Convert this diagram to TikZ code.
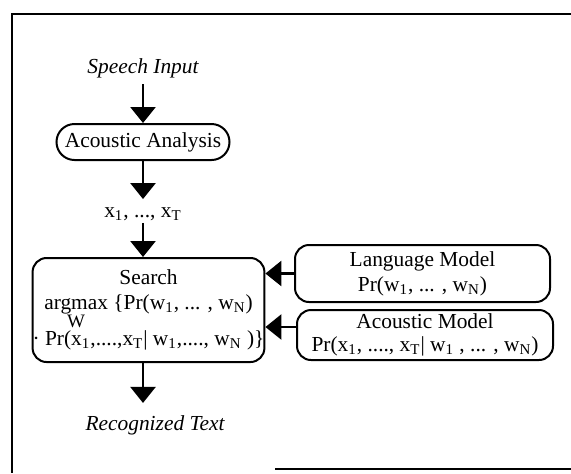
\documentclass[tikz,border=0pt]{standalone}
\usepackage{fontspec}
\setmainfont{Liberation Serif}
\usetikzlibrary{arrows.meta}
\begin{document}
\begin{tikzpicture}[
  x=0.5pt, y=-0.5pt,
  every node/.style={font=\fontsize{10.7}{12.5}\selectfont},
  box/.style={
    draw, line width=1pt, rectangle, rounded corners=7pt,
    align=center, inner sep=0pt
  },
  arr/.style={-{Triangle[width=12.5pt,length=8pt]}, line width=1.3pt},
  lbl/.style={inner sep=1pt, align=center},
]
\useasboundingbox (0,0) rectangle (571,473);
\draw[line width=1.2pt] (571,14) -- (12,14) -- (12,473);
\draw[line width=1.2pt] (275,469) -- (571,469);

\node[lbl] (speech) at (143,68) {\itshape Speech Input};
\node[box, rounded corners=9pt, minimum width=86.5pt, minimum height=18pt]
  (analysis) at (143,142) {Acoustic Analysis};
\node[lbl] (feat) at (143,214) {x\textsubscript{1}, ..., x\textsubscript{T}};
\node[box, minimum width=111.5pt, minimum height=52pt] (search) at (148.5,310)
  {Search\\[0pt]
   \smash{\begin{tabular}[t]{@{}c@{}}argmax\\[-3.5pt]\fontsize{9.5}{10}\selectfont W\end{tabular}}
   \{Pr(w\textsubscript{1}, ... , w\textsubscript{N})\\[5.5pt]
   · Pr(x\textsubscript{1},....,x\textsubscript{T}| w\textsubscript{1},...., w\textsubscript{N} )\}};
\node[lbl] (result) at (155,425) {\itshape Recognized Text};
\node[box, minimum width=127.5pt, minimum height=28.5pt] (lm) at (422.5,273.5)
  {Language Model\\Pr(w\textsubscript{1}, ... , w\textsubscript{N})};
\node[box, minimum width=128pt, minimum height=25pt] (am) at (425,335)
  {Acoustic Model\\[-1pt]Pr(x\textsubscript{1}, ...., x\textsubscript{T}| w\textsubscript{1} , ... , w\textsubscript{N})};
\coordinate (amin) at ([yshift=4pt]am.west);

\draw[arr, shorten <=2pt] (speech) -- (analysis);
\draw[arr, shorten >=3pt] (analysis) -- (feat);
\draw[arr] (feat) -- (feat |- search.north);
\draw[arr, shorten >=5pt] (search.south -| feat) -- (feat |- result.north);
\draw[arr] (lm.west) -- (search.east |- lm.west);
\draw[arr] (amin) -- (search.east |- amin);
\end{tikzpicture}
\end{document}
